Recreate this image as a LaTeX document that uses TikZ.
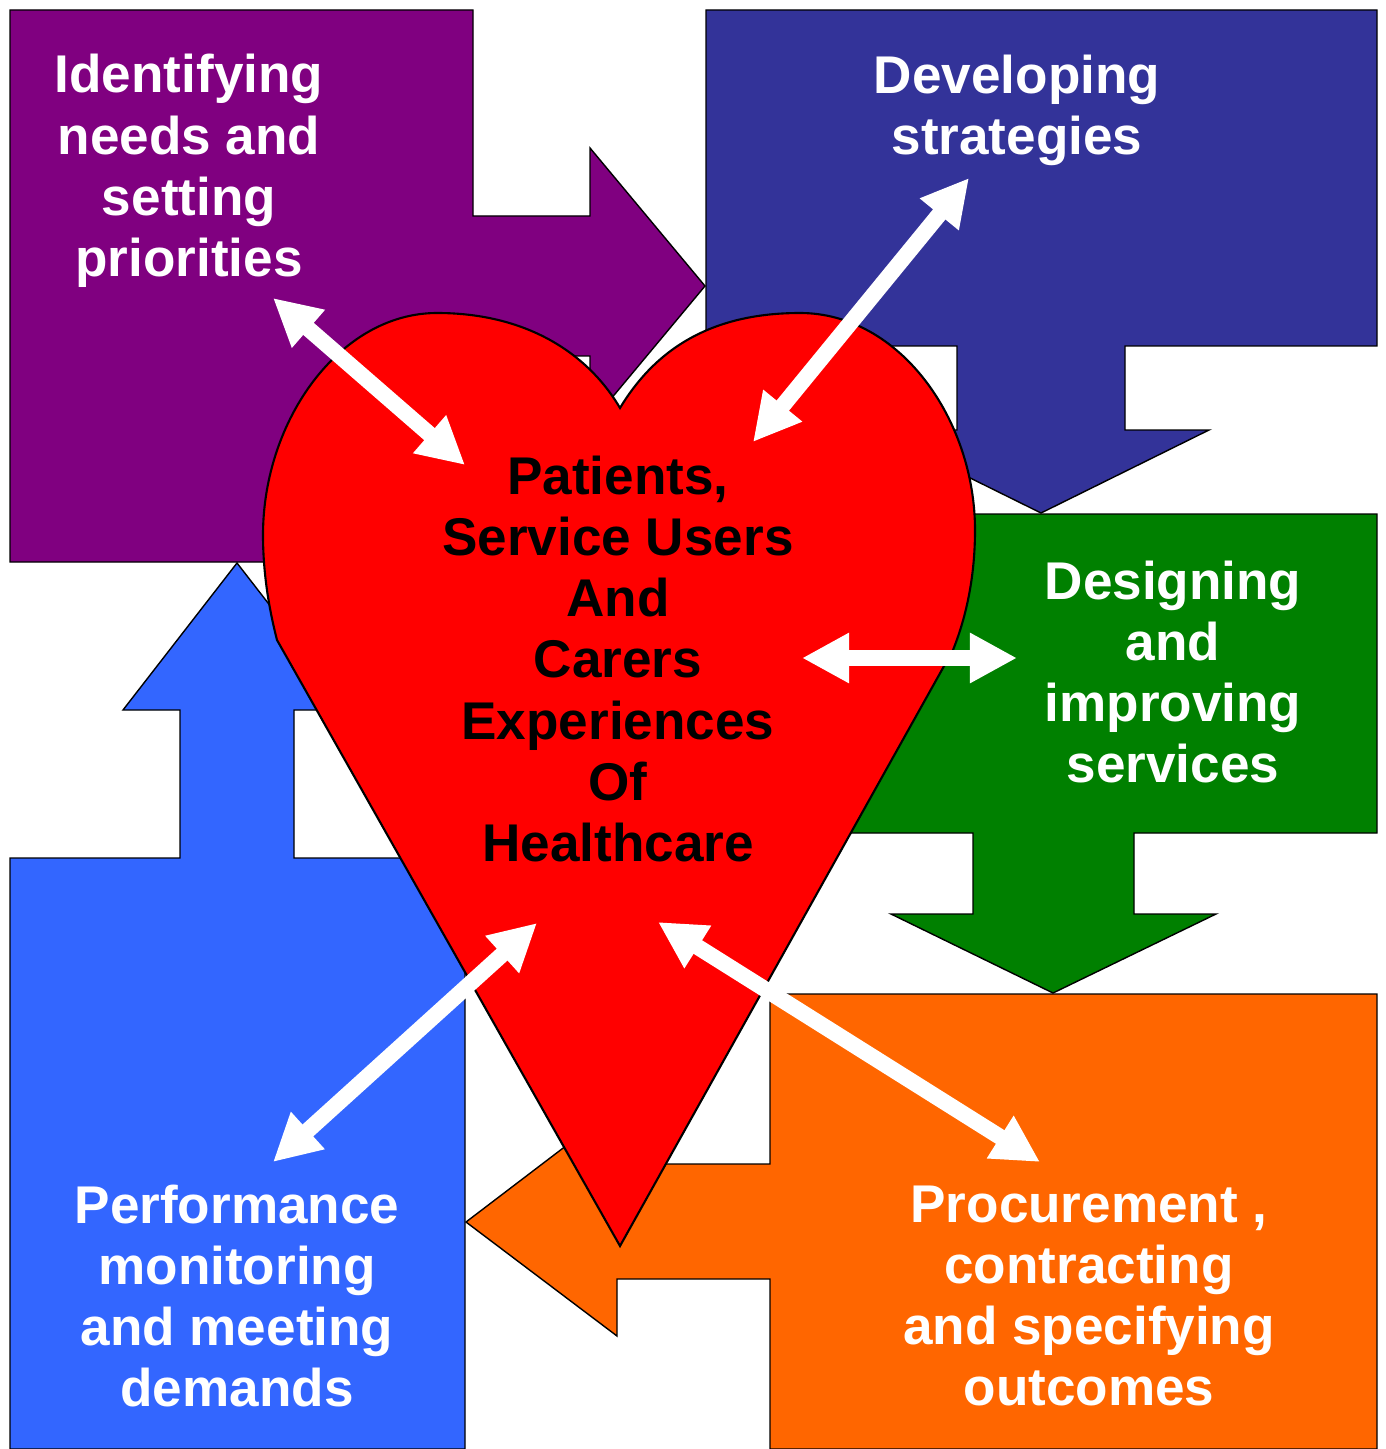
\documentclass[tikz,border=0pt]{standalone}
\usepackage{fontspec}
\setmainfont{Liberation Sans}
\usetikzlibrary{arrows.meta}

\definecolor{plumblock}{HTML}{800080}
\definecolor{navyblock}{HTML}{333399}
\definecolor{greenblock}{HTML}{008000}
\definecolor{orangeblock}{HTML}{FF6600}
\definecolor{skyblock}{HTML}{3366FF}

\begin{document}
\begin{tikzpicture}[x=0.01cm, y=-0.01cm,
  block/.style={draw=black, line width=0.4pt, line join=miter},
  stage/.style={align=center, text=white, inner sep=0pt, font=\bfseries\fontsize{15.1}{17.4}\selectfont},
  core/.style={stage, text=black},
  twoway/.style={white, line width=1.6mm, {Triangle[length=4.7mm,width=4.7mm]}-{Triangle[length=4.7mm,width=4.7mm]}},
]
\useasboundingbox[fill=white] (0,0) rectangle (1385,1449);

% the five stages, each a box with an arrow into the next one
\filldraw[block, fill=plumblock]
  (10,10) -- (473,10) -- (473,216) -- (590,216) -- (590,148) -- (705,286) -- (590,424)
  -- (590,356) -- (473,356) -- (473,562) -- (10,562) -- cycle;
\filldraw[block, fill=navyblock]
  (706,10) -- (1377,10) -- (1377,346) -- (1125,346) -- (1125,430) -- (1209,430) -- (1041,513)
  -- (873,430) -- (957,430) -- (957,346) -- (706,346) -- cycle;
\filldraw[block, fill=greenblock]
  (800,514) -- (1377,514) -- (1377,833) -- (1134,833) -- (1134,914) -- (1216,914) -- (1053,993)
  -- (891,914) -- (973,914) -- (973,833) -- (800,833) -- cycle;
\filldraw[block, fill=orangeblock]
  (770,994) -- (1377,994) -- (1377,1449) -- (770,1449) -- (770,1279) -- (617,1279) -- (617,1336)
  -- (466,1222) -- (617,1107) -- (617,1164) -- (770,1164) -- cycle;
\filldraw[block, fill=skyblock]
  (10,858) -- (180,858) -- (180,710) -- (123,710) -- (237,563) -- (351,710) -- (294,710)
  -- (294,858) -- (465,858) -- (465,1449) -- (10,1449) -- cycle;

% heart in the middle
\filldraw[block, fill=red, line width=0.6pt]
  (620,1246) -- (277,640) .. controls (268,605) and (263,570) .. (263,535)
  .. controls (263,420) and (340,313) .. (437,313)
  .. controls (525,313) and (587,352) .. (620,408)
  .. controls (655,350) and (710,313) .. (800,313)
  .. controls (900,313) and (975,420) .. (975,530)
  .. controls (975,580) and (965,620) .. (953,650) -- cycle;

\node (needs) [stage] at (189,171) {Identifying\\needs and\\setting\\priorities};
\node (strategy) [stage] at (1017,110) {Developing\\strategies};
\node (design) [stage] at (1173,672) {Designing\\and\\improving\\services};
\node (procure) [stage] at (1089,1296) {Procurement ,\\contracting\\and specifying\\outcomes};
\node (perform) [stage] at (237,1296) {Performance\\monitoring\\and meeting\\demands};
\node (patients) [core] at (618,659) {Patients,\\Service Users\\And\\Carers\\Experiences\\Of\\Healthcare};

\coordinate (needs-end) at (273,298);
\coordinate (core-nw) at (465,465);
\coordinate (strategy-end) at (969,178);
\coordinate (core-ne) at (753,442);
\coordinate (core-e) at (802,658);
\coordinate (design-end) at (1017,658);
\coordinate (core-sw) at (537,923);
\coordinate (perform-end) at (273,1162);
\coordinate (core-se) at (658,922);
\coordinate (procure-end) at (1040,1162);

\draw[twoway] (needs-end) -- (core-nw);
\draw[twoway] (strategy-end) -- (core-ne);
\draw[twoway] (core-e) -- (design-end);
\draw[twoway] (perform-end) -- (core-sw);
\draw[twoway] (core-se) -- (procure-end);

\end{tikzpicture}
\end{document}
